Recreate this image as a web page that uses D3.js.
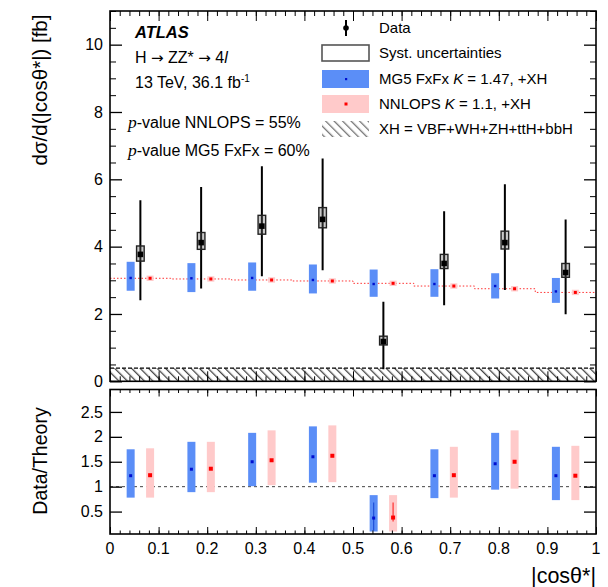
<!DOCTYPE html>
<html><head><meta charset="utf-8">
<script src="https://cdn.jsdelivr.net/npm/d3@7"></script>
<style>body{margin:0;background:#fff}svg{display:block}text{font-family:"Liberation Sans",Arial,sans-serif}</style>
</head><body><svg id="c" width="608" height="587"></svg>
<script>
// ---- data ----
const binEdges = [0, 0.125, 0.25, 0.375, 0.5, 0.625, 0.75, 0.875, 1.0];
const dataVal  = [3.77, 4.12, 4.61, 4.81, 1.18, 3.50, 4.12, 3.23];
const dataHi   = [5.38, 5.77, 6.39, 6.62, 2.36, 5.05, 5.85, 4.81];
const dataLo   = [2.41, 2.76, 3.12, 3.30, 0.36, 2.26, 2.71, 1.99];
const systHi   = [4.02, 4.42, 4.93, 5.16, 1.34, 3.77, 4.46, 3.50];
const systLo   = [3.57, 3.92, 4.37, 4.56, 1.08, 3.35, 3.93, 3.09];
const mg5Val   = [3.07, 3.06, 3.07, 3.01, 2.89, 2.89, 2.83, 2.67];
const mg5Hi    = [3.55, 3.51, 3.53, 3.47, 3.32, 3.33, 3.21, 3.07];
const mg5Lo    = [2.69, 2.65, 2.69, 2.61, 2.51, 2.51, 2.46, 2.33];
const nnVal    = [3.06, 3.04, 3.01, 2.98, 2.91, 2.83, 2.75, 2.64];
const nnHi     = [3.14, 3.12, 3.09, 3.06, 2.99, 2.91, 2.83, 2.72];
const nnLo     = [2.98, 2.96, 2.93, 2.90, 2.83, 2.75, 2.67, 2.56];
const xhVal    = [0.39, 0.39, 0.39, 0.39, 0.39, 0.39, 0.39, 0.39];
// ratio panel
const rMgVal = [1.22, 1.35, 1.50, 1.60, 0.37, 1.22, 1.46, 1.22];
const rMgHi  = [1.75, 1.90, 2.08, 2.21, 0.83, 1.75, 2.08, 1.80];
const rMgLo  = [0.78, 0.89, 1.01, 1.08, 0.10, 0.77, 0.94, 0.73];
const rNnVal = [1.23, 1.36, 1.53, 1.62, 0.38, 1.23, 1.50, 1.22];
const rNnHi  = [1.77, 1.90, 2.13, 2.23, 0.83, 1.80, 2.13, 1.82];
const rNnLo  = [0.78, 0.89, 1.03, 1.09, 0.10, 0.78, 0.96, 0.73];
const yTicksTop = [0, 2, 4, 6, 8, 10];
const yTicksBot = [0.5, 1, 1.5, 2, 2.5];
const xTicks = [0, 0.1, 0.2, 0.3, 0.4, 0.5, 0.6, 0.7, 0.8, 0.9, 1];

const BLUE = "#5b8ef7", PINK = "#ffcaca";
const svg = d3.select("#c");
const L = 110, R = 596;
const x = d3.scaleLinear().domain([0, 1]).range([L, R]);
const yT = d3.scaleLinear().domain([0, 11]).range([381.3, 11]);
const yB = d3.scaleLinear().domain([0.05, 2.95]).range([534, 389.5]);
const centers = binEdges.slice(0, -1).map((e, i) => (e + binEdges[i + 1]) / 2);
const off = 0.02;

const defs = svg.append("defs");
const pat = defs.append("pattern").attr("id", "hatch").attr("patternUnits", "userSpaceOnUse")
  .attr("width", 6).attr("height", 6).attr("patternTransform", "rotate(-45)");
pat.append("line").attr("x1", 0).attr("y1", 0).attr("x2", 0).attr("y2", 6)
  .attr("stroke", "#444").attr("stroke-width", 2.6);
defs.append("clipPath").attr("id", "clipT").append("rect")
  .attr("x", L).attr("y", yT(11)).attr("width", R - L).attr("height", yT(0) - yT(11));
defs.append("clipPath").attr("id", "clipB").append("rect")
  .attr("x", L).attr("y", yB(2.95)).attr("width", R - L).attr("height", yB(0.05) - yB(2.95));

// ---------- axes helper ----------
function axes(ys, yMajor, yMinor, yFmt, majLen, minLen, xMaj, xMin) {
  const top = ys.range()[1], bot = ys.range()[0];
  const gl = svg.append("g").attr("transform", `translate(${L},0)`)
    .call(d3.axisLeft(ys).tickValues(yMajor).tickSize(-majLen).tickPadding(7).tickFormat(yFmt));
  gl.select(".domain").remove();
  gl.selectAll("text").attr("font-size", 16).attr("fill", "#000");
  gl.selectAll("line").attr("stroke-width", 1.3);
  const glm = svg.append("g").attr("transform", `translate(${L},0)`)
    .call(d3.axisLeft(ys).tickValues(yMinor).tickSize(-minLen).tickFormat(""));
  glm.select(".domain").remove();
  const gr = svg.append("g").attr("transform", `translate(${R},0)`)
    .call(d3.axisRight(ys).tickValues(yMajor).tickSize(-majLen).tickFormat(""));
  gr.select(".domain").remove(); gr.selectAll("line").attr("stroke-width", 1.3);
  const grm = svg.append("g").attr("transform", `translate(${R},0)`)
    .call(d3.axisRight(ys).tickValues(yMinor).tickSize(-minLen).tickFormat(""));
  grm.select(".domain").remove();
  const xmin = d3.range(0, 1.0001, 0.02);
  [[bot, d3.axisBottom], [top, d3.axisTop]].forEach(([yy, ax]) => {
    const g1 = svg.append("g").attr("transform", `translate(0,${yy})`)
      .call(ax(x).tickValues(xTicks).tickSize(-xMaj).tickFormat(""));
    g1.select(".domain").remove();
    const g2 = svg.append("g").attr("transform", `translate(0,${yy})`)
      .call(ax(x).tickValues(xmin).tickSize(-xMin).tickFormat(""));
    g2.select(".domain").remove();
  });
  svg.append("rect").attr("x", L).attr("y", top).attr("width", R - L).attr("height", bot - top)
    .attr("fill", "none").attr("stroke", "#000").attr("stroke-width", 1.6);
}

// ---------- upper panel ----------
const gT = svg.append("g").attr("clip-path", "url(#clipT)");
const xhArea = d3.area().curve(d3.curveStepAfter).x(d => x(d[0])).y0(yT(0)).y1(d => yT(d[1]));
const xhPts = binEdges.map((e, i) => [e, xhVal[Math.min(i, xhVal.length - 1)]]);
gT.append("path").attr("d", xhArea(xhPts)).attr("fill", "url(#hatch)");
const stepLine = d3.line().curve(d3.curveStepAfter).x(d => x(d[0])).y(d => d[1]);
gT.append("path").attr("d", stepLine(xhPts.map(d => [d[0], yT(d[1])]))).attr("fill", "none")
  .attr("stroke", "#000").attr("stroke-width", 1.3).attr("stroke-dasharray", "4,2");
const nnPts = binEdges.map((e, i) => [e, yT(nnVal[Math.min(i, nnVal.length - 1)])]);
gT.append("path").attr("d", stepLine(nnPts)).attr("fill", "none")
  .attr("stroke", "#ff3030").attr("stroke-width", 1).attr("stroke-dasharray", "1.5,2");
centers.forEach((c, i) => {
  const cx = x(c - off);
  gT.append("rect").attr("x", cx - 4).attr("width", 8).attr("y", yT(mg5Hi[i]))
    .attr("height", yT(mg5Lo[i]) - yT(mg5Hi[i])).attr("fill", BLUE);
  gT.append("rect").attr("x", cx - 1.2).attr("width", 2.4).attr("y", yT(mg5Val[i]) - 1.2).attr("height", 2.4).attr("fill", "#0010d0");
  const rx = x(c + off);
  gT.append("rect").attr("x", rx - 3.5).attr("width", 7).attr("y", yT(nnHi[i]))
    .attr("height", yT(nnLo[i]) - yT(nnHi[i])).attr("fill", PINK);
  gT.append("rect").attr("x", rx - 1.5).attr("width", 3).attr("y", yT(nnVal[i]) - 1.5).attr("height", 3).attr("fill", "#ff0000");
  const dx = x(c);
  gT.append("line").attr("x1", dx).attr("x2", dx).attr("y1", yT(dataHi[i])).attr("y2", yT(dataLo[i]))
    .attr("stroke", "#000").attr("stroke-width", 2);
  gT.append("rect").attr("x", dx - 3.8).attr("width", 7.6).attr("y", yT(systHi[i]))
    .attr("height", yT(systLo[i]) - yT(systHi[i])).attr("fill", "#666").attr("fill-opacity", 0.35)
    .attr("stroke", "#222").attr("stroke-width", 1.4);
  gT.append("rect").attr("x", dx - 2.8).attr("width", 5.6).attr("y", yT(dataVal[i]) - 2.8).attr("height", 5.6).attr("fill", "#000");
});
axes(yT, yTicksTop, d3.range(0, 11.01, 0.5).filter(v => v % 2 !== 0), d3.format("d"), 12, 6, 10, 5);

// ---------- lower panel ----------
const gB = svg.append("g").attr("clip-path", "url(#clipB)");
gB.append("line").attr("x1", L).attr("x2", R).attr("y1", yB(1)).attr("y2", yB(1))
  .attr("stroke", "#444").attr("stroke-width", 1).attr("stroke-dasharray", "3,3");
centers.forEach((c, i) => {
  const bx = x(c - off), rx = x(c + off);
  gB.append("rect").attr("x", bx - 4).attr("width", 8).attr("y", yB(rMgHi[i]))
    .attr("height", yB(rMgLo[i]) - yB(rMgHi[i])).attr("fill", BLUE);
  gB.append("rect").attr("x", rx - 4).attr("width", 8).attr("y", yB(rNnHi[i]))
    .attr("height", yB(rNnLo[i]) - yB(rNnHi[i])).attr("fill", PINK);
  if (rMgVal[i] < 0.5) {
    gB.append("line").attr("x1", bx).attr("x2", bx).attr("y1", yB(0.68)).attr("y2", yB(0.12)).attr("stroke", "#2050d8").attr("stroke-width", 1.2);
    gB.append("line").attr("x1", rx).attr("x2", rx).attr("y1", yB(0.68)).attr("y2", yB(0.3)).attr("stroke", "#ff3030").attr("stroke-width", 1.2);
  }
  gB.append("rect").attr("x", bx - 1.5).attr("width", 3).attr("y", yB(rMgVal[i]) - 1.5).attr("height", 3).attr("fill", "#0010d0");
  gB.append("rect").attr("x", rx - 2).attr("width", 4).attr("y", yB(rNnVal[i]) - 2).attr("height", 4).attr("fill", "#ff0000");
});
axes(yB, yTicksBot, [], d => d3.format("~g")(d), 12, 6, 7, 3.5);
svg.append("g").selectAll("text").data(xTicks).join("text")
  .attr("x", d => x(d)).attr("y", 554).attr("text-anchor", "middle").attr("font-size", 16)
  .text(d => d3.format("~g")(d));

// ---------- titles ----------
svg.append("text").attr("transform", "translate(47,90) rotate(-90)").attr("text-anchor", "middle")
  .attr("font-size", 20.5).text("dσ/d(|cosθ*|) [fb]");
svg.append("text").attr("transform", "translate(47,461) rotate(-90)").attr("text-anchor", "middle")
  .attr("font-size", 19.5).text("Data/Theory");
svg.append("text").attr("x", 596).attr("y", 583).attr("text-anchor", "end").attr("font-size", 21.5).text("|cosθ*|");

// ---------- labels ----------
svg.append("text").attr("x", 135).attr("y", 38).attr("font-size", 16.5).attr("font-weight", "bold")
  .attr("font-style", "italic").text("ATLAS");
const t1 = svg.append("text").attr("x", 135).attr("y", 63).attr("font-size", 16);
t1.append("tspan").text("H ");
t1.append("tspan").attr("font-family", "DejaVu Sans").attr("font-size", 15).text("→");
t1.append("tspan").text(" ZZ* ");
t1.append("tspan").attr("font-family", "DejaVu Sans").attr("font-size", 15).text("→");
t1.append("tspan").text(" 4");
t1.append("tspan").attr("font-style", "italic").text("l");
const t2 = svg.append("text").attr("x", 135).attr("y", 88).attr("font-size", 16);
t2.append("tspan").text("13 TeV, 36.1 fb");
t2.append("tspan").attr("dy", -6).attr("font-size", 10).text("-1");
[["p", "-value NNLOPS = 55%", 128], ["p", "-value MG5 FxFx = 60%", 156]].forEach(([a, b, yy]) => {
  const t = svg.append("text").attr("x", 128).attr("y", yy).attr("font-size", 16);
  t.append("tspan").attr("font-family", "Liberation Serif").attr("font-style", "italic").attr("font-size", 17.5).text(a);
  t.append("tspan").text(b);
});

// ---------- legend ----------
const lg = svg.append("g");
const lx = 322, lw = 47, tx = 379;
lg.append("line").attr("x1", 346).attr("x2", 346).attr("y1", 20).attr("y2", 36).attr("stroke", "#000").attr("stroke-width", 2);
lg.append("circle").attr("cx", 346).attr("cy", 28).attr("r", 2.8).attr("fill", "#000");
lg.append("rect").attr("x", lx).attr("y", 45).attr("width", lw).attr("height", 16).attr("fill", "#fff").attr("stroke", "#555").attr("stroke-width", 1.6);
lg.append("rect").attr("x", lx).attr("y", 70).attr("width", lw).attr("height", 18).attr("fill", BLUE);
lg.append("rect").attr("x", 345).attr("y", 78).attr("width", 2.2).attr("height", 2.2).attr("fill", "#0010d0");
lg.append("rect").attr("x", lx).attr("y", 95).attr("width", lw).attr("height", 18).attr("fill", PINK);
lg.append("rect").attr("x", 344.5).attr("y", 102.5).attr("width", 3).attr("height", 3).attr("fill", "#ff0000");
lg.append("rect").attr("x", lx).attr("y", 121).attr("width", lw).attr("height", 16).attr("fill", "url(#hatch)").attr("opacity", 0.75);
const legTexts = [["Data", 33], ["Syst. uncertainties", 58], ["MG5 FxFx |K| = 1.47, +XH", 84], ["NNLOPS |K| = 1.1, +XH", 109], ["XH = VBF+WH+ZH+ttH+bbH", 134]];
legTexts.forEach(([s, yy]) => {
  const t = lg.append("text").attr("x", tx).attr("y", yy).attr("font-size", 15);
  s.split("|").forEach((p, j) => {
    const sp = t.append("tspan").text(p);
    if (j === 1) sp.attr("font-style", "italic");
  });
});
</script></body></html>
